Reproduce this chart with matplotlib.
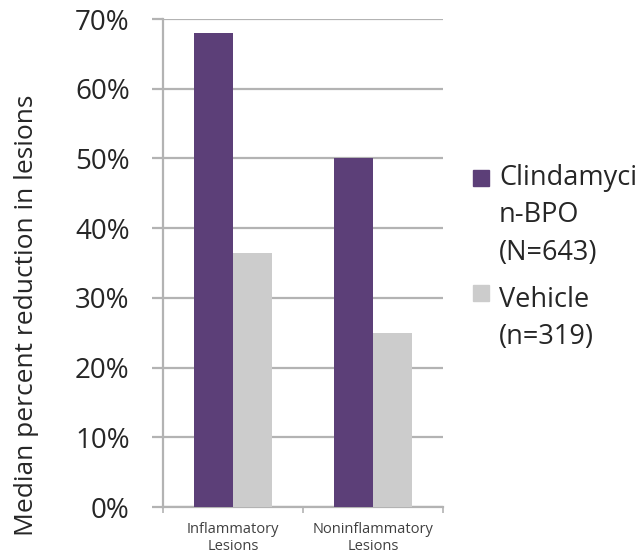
import matplotlib
matplotlib.use("Agg")
import matplotlib.pyplot as plt
from matplotlib.patches import Rectangle
import numpy as np

categories = ["Inflammatory\nLesions", "Noninflammatory\nLesions"]
series_names = ["Clindamyci\nn-BPO\n(N=643)", "Vehicle\n(n=319)"]
clinda = [68.0, 50.0]
vehicle = [36.5, 25.0]
yticks = [0, 10, 20, 30, 40, 50, 60, 70]
ytick_labels = ["0%", "10%", "20%", "30%", "40%", "50%", "60%", "70%"]
ylabel = "Median percent reduction in lesions"

purple = "#5c3f78"
gray = "#cccccc"
gridc = "#b3b3b3"
txt = "#262626"
plt.rcParams["font.family"] = ["Open Sans", "DejaVu Sans"]

fig = plt.figure(figsize=(6.38, 5.59), dpi=100)
ax = fig.add_axes([163/638, 1-507/559, 280/638, 488/559])

x = np.arange(len(categories)) + 0.5
w = 0.28
ax.bar(x - w/2, clinda, w, color=purple, zorder=3)
ax.bar(x + w/2, vehicle, w, color=gray, zorder=3)

ax.set_xlim(0, 2)
ax.set_ylim(0, 70)
ax.set_yticks(yticks)
ax.set_yticklabels(ytick_labels, fontsize=20, color=txt)
ax.yaxis.grid(True, color=gridc, linewidth=1.6, zorder=0)
ax.set_axisbelow(True)
ax.tick_params(axis="y", length=8, width=1.6, color=gridc, pad=16)

ax.set_xticks([0, 1, 2], minor=False)
ax.set_xticklabels([])
ax.tick_params(axis="x", length=4, width=1.2, color=gridc)
ax.set_xticks(x, minor=True)
ax.set_xticklabels(categories, minor=True, fontsize=10.5, color="#404040", linespacing=1.2)
ax.tick_params(axis="x", which="minor", length=0, pad=11)

for s in ["top", "right"]:
    ax.spines[s].set_visible(False)
ax.spines["left"].set_color(gridc)
ax.spines["left"].set_linewidth(1.6)
ax.spines["bottom"].set_color(gridc)
ax.spines["bottom"].set_linewidth(1.6)

fig.text(27/638, 1-315/559, ylabel, fontsize=19, color=txt, rotation=90,
         ha="center", va="center")

# legend
colors = [purple, gray]
square_tops = [170, 285]
first_baselines = [185, 307]
for name, c, top, base in zip(series_names, colors, square_tops, first_baselines):
    fig.patches.append(Rectangle((473/638, 1-(top+16)/559), 16/638, 16/559,
                                 transform=fig.transFigure, color=c))
    for i, line in enumerate(name.split("\n")):
        fig.text(499/638, 1-(base + i*37.5)/559, line, fontsize=19.5, va="baseline",
                 ha="left", color=txt)

fig.savefig("out.png", dpi=100)
